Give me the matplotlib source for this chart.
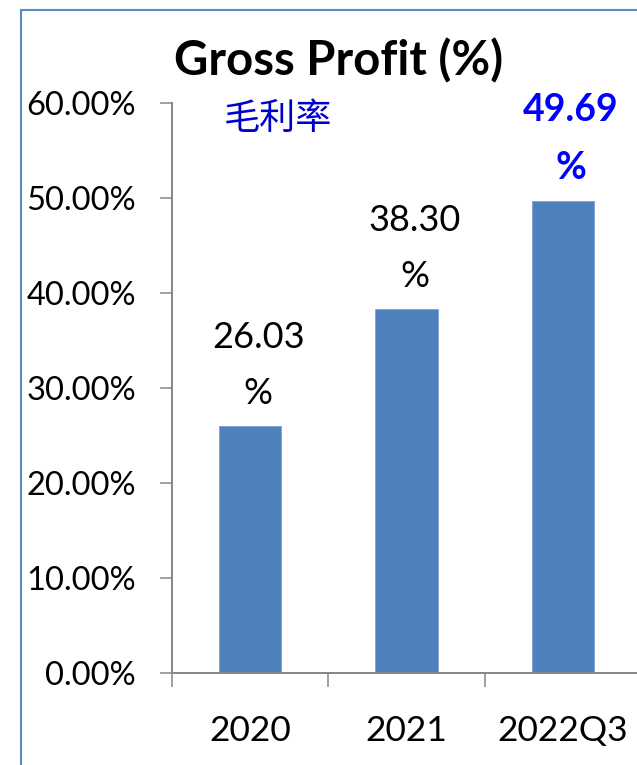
import numpy as np
import matplotlib.pyplot as plt
from matplotlib.lines import Line2D

categories = ['2020', '2021', '2022Q3']
gross_profit = [26.03, 38.30, 49.69]
label_colors = ['black', 'black', '#0000FF']
label_weights = ['normal', 'normal', 'bold']
yticks = [0, 10, 20, 30, 40, 50, 60]

plt.rcParams['font.family'] = ['Lato', 'Noto Sans CJK SC', 'DejaVu Sans']

W, H = 637, 765
fig = plt.figure(figsize=(W / 100, H / 100), dpi=100)

# axes placed in pixels, right edge runs past the picture like the original crop
left, right, bottom, top = 172, 641, 673, 103
ax = fig.add_axes([left / W, 1 - bottom / H, (right - left) / W, (bottom - top) / H])

x = np.arange(len(categories))
bar_col = '#4F81BD'
ax.bar(x, gross_profit, width=0.40, color=bar_col, edgecolor='#7FA3D1', linewidth=0.6, zorder=2)

ax.set_xlim(-0.5, 2.5)
ax.set_ylim(0, 60)

axis_col = '#868686'
for s in ['top', 'right']:
    ax.spines[s].set_visible(False)
for s in ['left', 'bottom']:
    ax.spines[s].set_color(axis_col)
    ax.spines[s].set_linewidth(1.4)

ax.set_yticks(yticks)
ax.set_yticklabels(['%.2f%%' % v for v in yticks])
ax.tick_params(axis='y', length=9, width=1.1, color=axis_col, pad=17, labelsize=23.5)

# category boundaries as tick marks, names as minor ticks at centres
ax.set_xticks([-0.5, 0.5, 1.5])
ax.set_xticklabels([])
ax.tick_params(axis='x', which='major', length=10, width=1.1, color=axis_col)
ax.set_xticks(x, minor=True)
ax.set_xticklabels(categories, minor=True)
ax.tick_params(axis='x', which='minor', length=0, pad=30, labelsize=25.5)

for xi, v, c, w in zip(x, gross_profit, label_colors, label_weights):
    fs = 27 if w == 'bold' else 26
    ax.annotate('%.2f\n%%' % v, xy=(xi, v), xytext=(8, 16), textcoords='offset pixels',
                ha='center', va='bottom', fontsize=fs, color=c, fontweight=w,
                linespacing=1.85, annotation_clip=False)

fig.text(338.5 / W, 1 - 75 / H, 'Gross Profit (%)', ha='center', va='baseline',
         fontsize=34, fontweight='bold')
fig.text(277.5 / W, 1 - 119 / H, '毛利率', ha='center', va='center',
         fontsize=26, color='#0000CC', family=['Noto Sans CJK SC', 'DejaVu Sans'])

# blue chart frame on the left and top
frame_col = '#5B8CC8'
fig.add_artist(Line2D([21 / W, 21 / W], [0, 1 - 10 / H], transform=fig.transFigure,
                      color=frame_col, lw=1.5))
fig.add_artist(Line2D([21 / W, 1], [1 - 10 / H, 1 - 10 / H], transform=fig.transFigure,
                      color=frame_col, lw=1.5))

fig.savefig('out.png', dpi=100)
